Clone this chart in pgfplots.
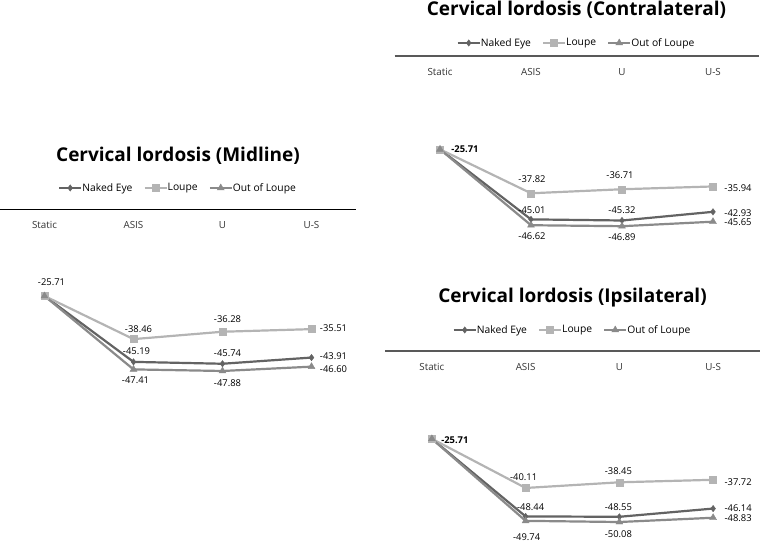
\documentclass[border=0pt]{standalone}
\usepackage{pgfplots}
\pgfplotsset{compat=1.18}
\usepackage{pgfplotstable}
\usepackage{fontspec}
\setmainfont{Open Sans}

\definecolor{naked}{HTML}{636363}
\definecolor{loupe}{HTML}{B4B4B4}
\definecolor{outl}{HTML}{8A8A8A}

% x y label dx dy  (dx,dy: label offset in pt)
\pgfplotstableread{
x y lab dx dy
0 -25.71 {} 0 0
1 -45.19 -45.19 3 11
2 -45.74 -45.74 5 11
3 -43.91 -43.91 22 1
}\midNaked
\pgfplotstableread{
x y lab dx dy
0 -25.71 -25.71 7 14
1 -38.46 -38.46 5 10
2 -36.28 -36.28 5 13
3 -35.51 -35.51 22 1
}\midLoupe
\pgfplotstableread{
x y lab dx dy
0 -25.71 {} 0 0
1 -47.41 -47.41 2 -11
2 -47.88 -47.88 5 -12
3 -46.60 -46.60 22 -2
}\midOut

\pgfplotstableread{
x y lab dx dy
0 -25.71 {} 0 0
1 -45.01 -45.01 1 9
2 -45.32 -45.32 0 10
3 -42.93 -42.93 25 -1
}\conNaked
\pgfplotstableread{
x y lab dx dy
0 -25.71 \textbf{-25.71} 25 0
1 -37.82 -37.82 1 14
2 -36.71 -36.71 -2 14
3 -35.94 -35.94 25 -2
}\conLoupe
\pgfplotstableread{
x y lab dx dy
0 -25.71 {} 0 0
1 -46.62 -46.62 1 -11
2 -46.89 -46.89 0 -11
3 -45.65 -45.65 25 0
}\conOut

\pgfplotstableread{
x y lab dx dy
0 -25.71 {} 0 0
1 -48.44 -48.44 5 9
2 -48.55 -48.55 -1 10
3 -46.14 -46.14 25 0
}\ipsNaked
\pgfplotstableread{
x y lab dx dy
0 -25.71 \textbf{-25.71} 23 -1
1 -40.11 -40.11 -2 11
2 -38.45 -38.45 -1 11
3 -37.72 -37.72 25 -2
}\ipsLoupe
\pgfplotstableread{
x y lab dx dy
0 -25.71 {} 0 0
1 -49.74 -49.74 1 -16
2 -50.08 -50.08 -1 -12
3 -48.83 -48.83 25 0
}\ipsOut

\pgfplotsset{
  lordosis/.style={
    scale only axis,
    xmin=-0.5, xmax=3.5, ymin=-60, ymax=0,
    axis x line=middle, axis y line=none,
    x axis line style={-},
    xtick={0,1,2,3}, xticklabels={Static,ASIS,U,U-S},
    major tick length=0pt,
    xticklabel style={anchor=center, yshift=-16pt, font=\fontsize{9.8}{11}\selectfont, text=black!80},
    ytick=\empty,
    clip=false,
    title style={font=\fontsize{19}{22}\selectfont\bfseries, anchor=center, at={(0.5,1)}},
    legend columns=3,
    legend style={draw=none, fill=none, font=\fontsize{10.3}{12}\selectfont, anchor=center,
      at={(0.5,1)}, /tikz/every even column/.append style={column sep=9pt},
      /tikz/every odd column/.append style={column sep=-2pt}},
    legend image code/.code={%
      \draw[mark repeat=2, mark phase=2] plot coordinates {(0pt,0pt) (11pt,0pt) (22pt,0pt)};},
    legend image post style={line width=2.2pt},
    point meta=explicit symbolic,
    nodes near coords,
    visualization depends on=\thisrow{dx}\as\dx,
    visualization depends on=\thisrow{dy}\as\dy,
    nodes near coords style={anchor=center, xshift=\dx pt, yshift=\dy pt,
      font=\fontsize{9.4}{10}\selectfont, text=black, inner sep=0pt},
  },
  sNaked/.style={color=naked, line width=2.2pt, mark=diamond*, mark size=3.2pt,
    mark options={line width=0.4pt}},
  sLoupe/.style={color=loupe, line width=2.2pt, mark=square*, mark size=3.5pt,
    mark options={line width=0.4pt}},
  sOut/.style={color=outl, line width=2.2pt, mark=triangle*, mark size=4pt,
    mark options={line width=0.4pt}},
}

\begin{document}
\begin{tikzpicture}
\useasboundingbox (0,0) rectangle (761pt,541pt);

% Midline
\begin{axis}[lordosis, at={(0pt,332pt)}, anchor=north west,
  width=356pt, height=203pt,
  x axis line style={black, line width=0.9pt},
  title={Cervical lordosis (Midline)}, title style={yshift=47pt},
  legend style={yshift=21pt}]
\addplot[sNaked] table[x=x, y=y, meta=lab] {\midNaked};
\addlegendentry{Naked Eye}
\addplot[sLoupe] table[x=x, y=y, meta=lab] {\midLoupe};
\addlegendentry{Loupe}
\addplot[sOut] table[x=x, y=y, meta=lab] {\midOut};
\addlegendentry{Out of Loupe}
\end{axis}

% Contralateral
\begin{axis}[lordosis, at={(394.5pt,485pt)}, anchor=north west,
  width=364pt, height=217.8pt,
  x axis line style={black!65, line width=1.4pt},
  title={Cervical lordosis (Contralateral)}, title style={yshift=40pt},
  legend style={yshift=13pt}]
\addplot[sNaked] table[x=x, y=y, meta=lab] {\conNaked};
\addlegendentry{Naked Eye}
\addplot[sLoupe] table[x=x, y=y, meta=lab] {\conLoupe};
\addlegendentry{Loupe}
\addplot[sOut] table[x=x, y=y, meta=lab] {\conOut};
\addlegendentry{Out of Loupe}
\end{axis}

% Ipsilateral
\begin{axis}[lordosis, at={(385pt,190pt)}, anchor=north west,
  width=375pt, height=204.9pt,
  x axis line style={black!65, line width=1.4pt},
  title={Cervical lordosis (Ipsilateral)}, title style={yshift=47pt},
  legend style={yshift=21pt}]
\addplot[sNaked] table[x=x, y=y, meta=lab] {\ipsNaked};
\addlegendentry{Naked Eye}
\addplot[sLoupe] table[x=x, y=y, meta=lab] {\ipsLoupe};
\addlegendentry{Loupe}
\addplot[sOut] table[x=x, y=y, meta=lab] {\ipsOut};
\addlegendentry{Out of Loupe}
\end{axis}
\end{tikzpicture}
\end{document}
